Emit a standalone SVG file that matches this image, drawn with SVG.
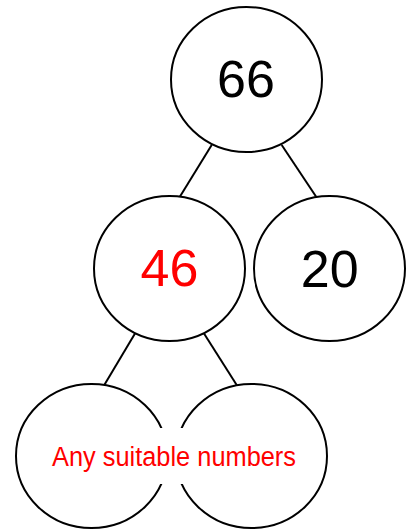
<svg xmlns="http://www.w3.org/2000/svg" width="411" height="529" viewBox="0 0 411 529">
<style>
.node{fill:#fff;stroke:#000;stroke-width:2}
.edge{stroke:#000;stroke-width:2;fill:none}
.num{font-family:"Liberation Sans",Arial,sans-serif;font-size:52px;text-anchor:middle}
.red{fill:#ff0000}
.blk{fill:#000}
</style>
<rect width="411" height="529" fill="#fff"/>
<g id="connectors">
<line class="edge" x1="211.7" y1="145" x2="180" y2="196.5"/>
<line class="edge" x1="281.7" y1="145" x2="316" y2="196.5"/>
<line class="edge" x1="135" y1="333.5" x2="104.3" y2="385"/>
<line class="edge" x1="204" y1="333.5" x2="236.7" y2="385"/>
</g>
<g id="n66">
<ellipse class="node" cx="246.5" cy="79.5" rx="75.5" ry="72.5"/>
<text class="num blk" x="246" y="97">66</text>
</g>
<g id="n46">
<ellipse class="node" cx="169.5" cy="268.5" rx="75.5" ry="72.5"/>
<text class="num red" x="169.5" y="285.7">46</text>
</g>
<g id="n20">
<ellipse class="node" cx="329.5" cy="268.5" rx="75.5" ry="72.5"/>
<text class="num blk" x="329.7" y="286.5">20</text>
</g>
<g id="nLeft">
<ellipse class="node" cx="91.5" cy="456" rx="75.5" ry="72"/>
</g>
<g id="nRight">
<ellipse class="node" cx="251.5" cy="456" rx="75.5" ry="72"/>
</g>
<g id="label">
<rect x="40" y="428" width="265" height="56" fill="#fff"/>
<text x="52" y="465.5" font-family="'Liberation Sans',Arial,sans-serif" font-size="27" fill="#ff0000" textLength="244" lengthAdjust="spacingAndGlyphs">Any suitable numbers</text>
</g>
</svg>
